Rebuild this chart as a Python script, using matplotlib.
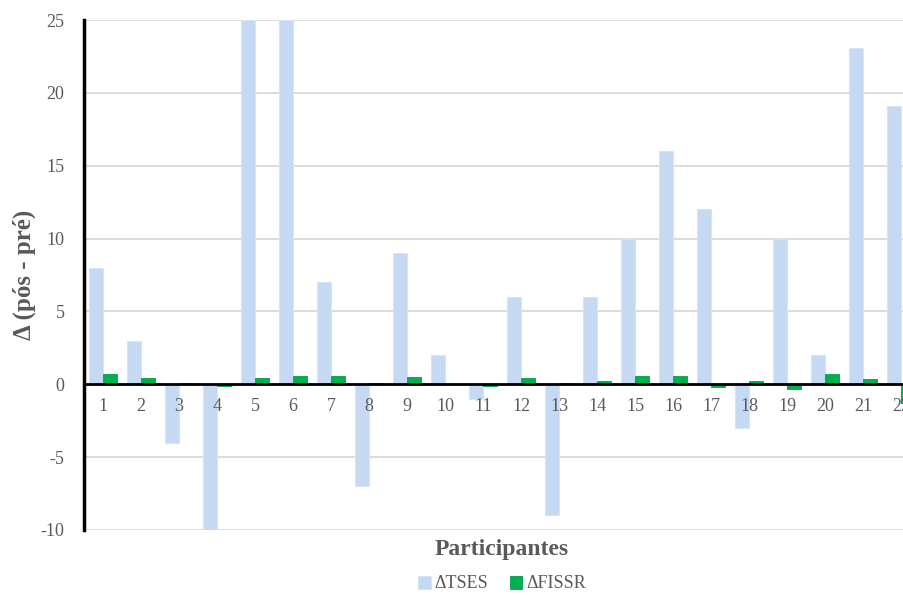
import matplotlib
matplotlib.use("Agg")
import matplotlib.pyplot as plt
import numpy as np
from matplotlib.transforms import offset_copy

participants = [str(i) for i in range(1, 23)]
tses = [8, 3, -4, -10, 25, 25, 7, -7, 9, 2, -1, 6, -9, 6, 10, 16, 12, -3, 10, 2, 23.1, 19.1]
fissr = [0.7, 0.4, 0.1, -0.1, 0.4, 0.55, 0.55, 0.1, 0.5, 0.0, -0.1, 0.4, 0.1, 0.25,
         0.55, 0.55, -0.2, 0.25, -0.3, 0.7, 0.35, -1.3]
yticks = [-10, -5, 0, 5, 10, 15, 20, 25]

plt.rcParams['font.family'] = ['Liberation Serif', 'DejaVu Serif']
gray = '#595959'

fig = plt.figure(figsize=(9.04, 5.95), dpi=100)
W, H = 904, 595
left, right, top, bottom = 84, 920, 20, 530
ax = fig.add_axes([left / W, 1 - bottom / H, (right - left) / W, (bottom - top) / H])

x = np.arange(1, len(participants) + 1)
bw = 0.36
ax.bar(x - bw / 2 - 0.01, tses, width=bw, color='#C5D9F3', edgecolor='#D6E4F7', linewidth=0.8,
       label='ΔTSES', zorder=2)
ax.bar(x + bw / 2 + 0.01, fissr, width=bw, color='#00B050', edgecolor='#00A04A', linewidth=0.6,
       label='ΔFISSR', zorder=2)

ax.set_xlim(0.5, len(participants) + 0.5)
ax.set_ylim(-10, 25)
ax.set_yticks(yticks)
ax.set_yticklabels([str(v) for v in yticks])
ax.yaxis.grid(True, color='#D9D9D9', linewidth=1.3, zorder=0)
ax.set_axisbelow(True)

for s in ['top', 'right']:
    ax.spines[s].set_visible(False)
ax.spines['left'].set_linewidth(2.5)
ax.spines['left'].set_color('black')
ax.spines['bottom'].set_position(('data', 0))
ax.spines['bottom'].set_linewidth(2)
ax.spines['bottom'].set_color('black')
ax.spines['bottom'].set_zorder(3)

ax.set_xticks([])
lab_tr = offset_copy(ax.transData, fig=fig, x=0, y=-10, units='points')
for xi, lab in zip(x, participants):
    ax.text(xi, 0, lab, transform=lab_tr, ha='center', va='top', fontsize=13,
            color=gray, zorder=5, clip_on=False)
ax.tick_params(axis='y', length=0, pad=14, labelsize=13, labelcolor=gray)

fig.text(24 / W, 1 - 275 / H, 'Δ (pós - pré)', rotation=90, ha='center', va='center',
         fontsize=18, fontweight='bold', color=gray)
fig.text(502 / W, 1 - 549 / H, 'Participantes', ha='center', va='center',
         fontsize=17, fontweight='bold', color=gray)

fig.legend(loc='center', bbox_to_anchor=(502 / W, 1 - 584 / H), ncol=2, frameon=False,
           fontsize=13, labelcolor=gray, handlelength=0.7, handleheight=0.7,
           handletextpad=0.2, columnspacing=1.2)

fig.savefig('out.png', dpi=100)
